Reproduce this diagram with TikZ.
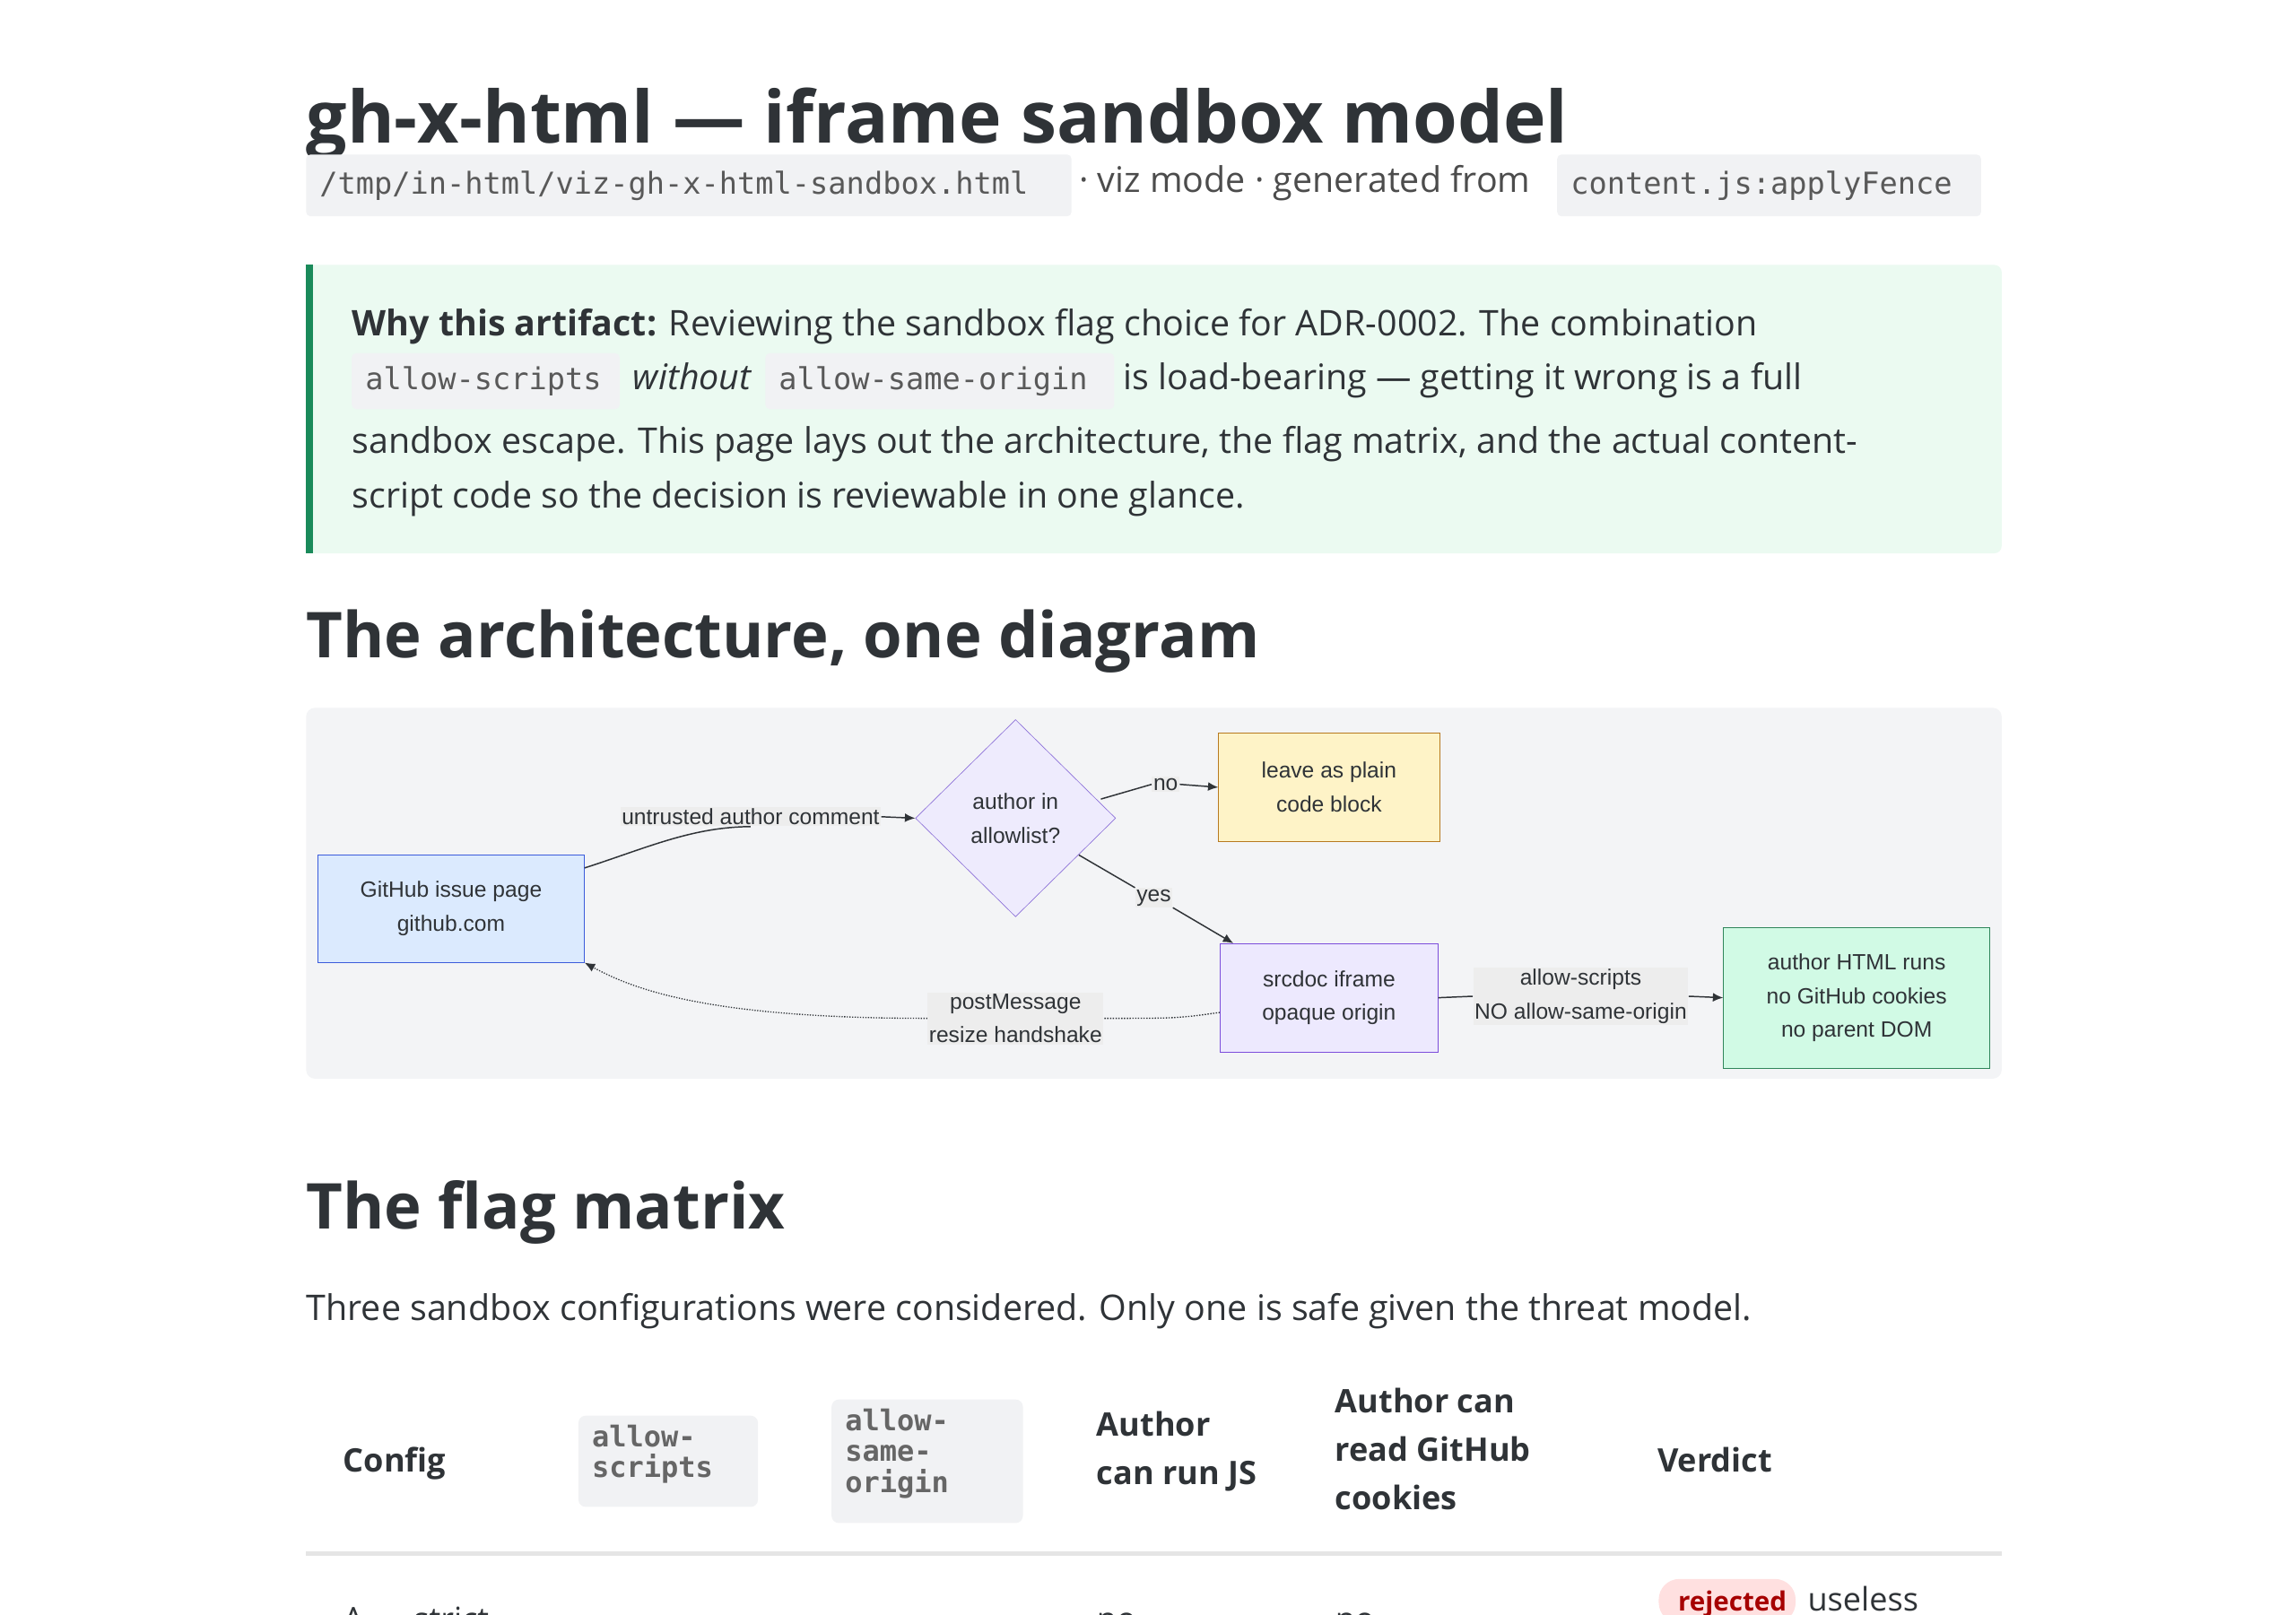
\documentclass[tikz,border=0pt]{standalone}
\usepackage{fontspec}
\setmainfont{Open Sans}
\setmonofont{DejaVu Sans Mono}
\newfontfamily\arialf{Liberation Sans}
\usetikzlibrary{arrows.meta,shapes.geometric}
\definecolor{ink}{HTML}{2F3337}
\definecolor{chipbg}{HTML}{F1F2F4}
\definecolor{calbg}{HTML}{EBFAF1}
\definecolor{calbar}{HTML}{1A8A5A}
\definecolor{panel}{HTML}{F3F4F6}
\definecolor{ghf}{HTML}{DBEAFE}\definecolor{ghd}{HTML}{3B5BDB}
\definecolor{decf}{HTML}{EEEBFD}\definecolor{decd}{HTML}{8B6FD8}
\definecolor{lvf}{HTML}{FEF3C7}\definecolor{lvd}{HTML}{B7791F}
\definecolor{iff}{HTML}{EDE9FE}\definecolor{ifd}{HTML}{7C4DDB}
\definecolor{rnf}{HTML}{D1FAE5}\definecolor{rnd}{HTML}{2F855A}
\begin{document}
\begin{tikzpicture}[x=1bp,y=-1bp,
  txt/.style={inner sep=0,anchor=base west,text=ink},
  chip/.style={fill=chipbg,rounded corners=3bp},
  bx/.style={draw,minimum width=#1,align=center,font=\arialf\fontsize{15bp}{23bp}\selectfont,text=ink},
  lab/.style={fill=black!7,inner sep=1bp,align=center,font=\arialf\fontsize{15bp}{23bp}\selectfont,text=ink},
  arr/.style={-{Latex[length=7bp,width=6bp]},line width=0.9bp,draw=ink},
  ln/.style={line width=0.9bp,draw=ink}]
\useasboundingbox[fill=white] (0,0) rectangle (1560,1097);
\begin{scope}
\clip (0,0) rectangle (1560,1097);
% title
\node[txt,font=\bfseries\fontsize{49bp}{60bp}\selectfont] (title) at (208,97) {gh-x-html — iframe sandbox model};
\fill[chip] (208,105) rectangle (728,147);
\node[txt,font=\ttfamily\fontsize{20.5bp}{26bp}\selectfont,text=black!65] (path) at (217,132) {/tmp/in-html/viz-gh-x-html-sandbox.html};
\node[txt,font=\fontsize{24bp}{30bp}\selectfont,text=black!70] (mode) at (733,131) {· viz mode · generated from};
\fill[chip] (1058,105) rectangle (1346,147);
\node[txt,font=\ttfamily\fontsize{20.5bp}{26bp}\selectfont,text=black!65] (src) at (1067,132) {content.js:applyFence};
% callout
\fill[calbg,rounded corners=5bp] (208,180) rectangle (1360,376);
\fill[calbar] (208,180) rectangle (212.5,376);
\begin{scope}[every node/.style={txt,font=\fontsize{24bp}{30bp}\selectfont}]
\node (c1) at (239,228) {\textbf{Why this artifact:} Reviewing the sandbox flag choice for ADR-0002. The combination};
\fill[chip] (239,240) rectangle (421,278);
\node[font=\ttfamily\fontsize{20.5bp}{26bp}\selectfont,text=black!65] (c2a) at (248,265) {allow-scripts};
\node (c2b) at (430,265) {\itshape without};
\fill[chip] (520,240) rectangle (757,278);
\node[font=\ttfamily\fontsize{20.5bp}{26bp}\selectfont,text=black!65] (c2c) at (529,265) {allow-same-origin};
\node (c2d) at (763,265) {is load-bearing — getting it wrong is a full};
\node (c3) at (239,308) {sandbox escape. This page lays out the architecture, the flag matrix, and the actual content-};
\node (c4) at (239,345) {script code so the decision is reviewable in one glance.};
\end{scope}
% heading
\node[txt,font=\bfseries\fontsize{43bp}{50bp}\selectfont] (h1) at (208,447) {The architecture, one diagram};
% diagram panel
\fill[panel,rounded corners=6bp] (208,481) rectangle (1360,733);
\node[bx=181bp,minimum height=73bp,fill=ghf,draw=ghd] (gh) at (306.5,617.5) {GitHub issue page\\github.com};
\node[diamond,draw=decd,fill=decf,minimum width=136bp,minimum height=134bp,inner sep=0,align=center,font=\arialf\fontsize{15bp}{23bp}\selectfont,text=ink] (dec) at (690,556) {author in\\allowlist?};
\node[bx=150bp,minimum height=74bp,fill=lvf,draw=lvd] (leave) at (903,535) {leave as plain\\code block};
\node[bx=148bp,minimum height=74bp,fill=iff,draw=ifd] (ifr) at (903,678) {srcdoc iframe\\opaque origin};
\node[bx=181bp,minimum height=96bp,fill=rnf,draw=rnd] (run) at (1261.5,678) {author HTML runs\\no GitHub cookies\\no parent DOM};
\node[lab] (l1) at (510,555) {untrusted author comment};
\draw[ln] (gh.north east) ++(0,9) .. controls (440,576) and (470,562) .. (l1.south);
\draw[arr] (l1.east) -- (dec.west);
\node[lab] (l2) at (792,533) {no};
\draw[ln] (748,543) -- (l2.west);
\draw[arr] (l2.east) -- (leave.west);
\node[lab] (l3) at (784,610) {yes};
\draw[ln] (733,581) -- (l3.north west);
\draw[arr] (l3.south east) -- (838,641);
\node[lab] (l4) at (1074,677) {allow-scripts\\NO allow-same-origin};
\draw[ln] (ifr.east) -- (l4.west);
\draw[arr] (l4.east) -- (run.west);
\node[lab] (l5) at (690,692) {postMessage\\resize handshake};
\draw[ln,densely dotted,line width=0.8bp] (ifr.west) ++(0,10) .. controls (800,692) .. (l5.east);
\draw[-{Latex[length=7bp,width=6bp]},densely dotted,line width=0.8bp,draw=ink] (l5.west) .. controls (480,692) and (430,672) .. (gh.south east);
% flag matrix
\node[txt,font=\bfseries\fontsize{43bp}{50bp}\selectfont] (h2) at (208,835) {The flag matrix};
\node[txt,font=\fontsize{24bp}{30bp}\selectfont] (p) at (208,897) {Three sandbox configurations were considered. Only one is safe given the threat model.};
\begin{scope}[every node/.style={txt,font=\bfseries\fontsize{22bp}{33bp}\selectfont}]
\node (th1) at (233,1000) {Config};
\fill[chip,rounded corners=5bp] (393,962) rectangle (515,1024);
\node[font=\ttfamily\bfseries\fontsize{19.5bp}{21bp}\selectfont,text=black!60,align=left,anchor=north west] (th2) at (402,968) {allow-\\scripts};
\fill[chip,rounded corners=5bp] (565,951) rectangle (695,1035);
\node[font=\ttfamily\bfseries\fontsize{19.5bp}{21bp}\selectfont,text=black!60,align=left,anchor=north west] (th3) at (574,957) {allow-\\same-\\origin};
\node[align=left,anchor=north west] (th4) at (745,959) {Author\\can run JS};
\node[align=left,anchor=north west] (th5) at (907,943) {Author can\\read GitHub\\cookies};
\node (th6) at (1126,1000) {Verdict};
\end{scope}
\fill[black!10] (208,1054.5) rectangle (1360,1057.5);
\begin{scope}[every node/.style={txt,font=\fontsize{22bp}{30bp}\selectfont}]
\node (r1) at (233,1108) {A};
\node (r2) at (281,1108) {strict};
\node (r3) at (745,1108) {no};
\node (r4) at (907,1108) {no};
\fill[red!12,rounded corners=14bp] (1127,1073) rectangle (1220,1103);
\node[font=\bfseries\fontsize{18bp}{22bp}\selectfont,text=red!65!black] (r5) at (1140,1095) {rejected};
\node (r6) at (1228,1095) {useless};
\end{scope}
\end{scope}
\end{tikzpicture}
\end{document}
